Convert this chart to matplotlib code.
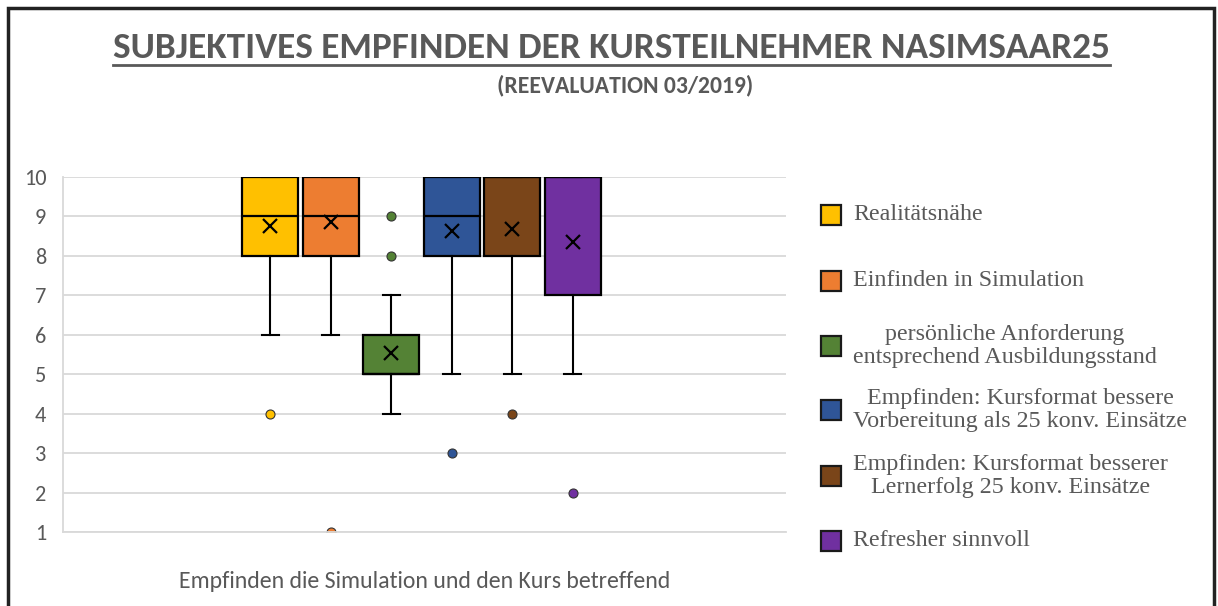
import matplotlib.pyplot as plt
from matplotlib.patches import Rectangle
from matplotlib import font_manager

# Boxplot statistics (scale 1-10)
labels = ["Realitätsnähe",
          "Einfinden in Simulation",
          "persönliche Anforderung\nentsprechend Ausbildungsstand",
          "Empfinden: Kursformat bessere\nVorbereitung als 25 konv. Einsätze",
          "Empfinden: Kursformat besserer\nLernerfolg 25 konv. Einsätze",
          "Refresher sinnvoll"]
q1 = [8, 8, 5, 8, 8, 7]
med = [9, 9, 5, 9, 10, 10]
q3 = [10, 10, 6, 10, 10, 10]
whislo = [6, 6, 4, 5, 5, 5]
whishi = [10, 10, 7, 10, 10, 10]
means = [8.76, 8.87, 5.54, 8.63, 8.67, 8.36]
outliers = [[4], [1], [8, 9], [3], [4], [2]]
colors = ["#FFC000", "#ED7D31", "#548235", "#2F5597", "#7A4519", "#7030A0"]

title = "SUBJEKTIVES EMPFINDEN DER KURSTEILNEHMER NASIMSAAR25"
subtitle = "(REEVALUATION 03/2019)"
xlabel = "Empfinden die Simulation und den Kurs betreffend"

grey = "#595959"
names = {f.name for f in font_manager.fontManager.ttflist}


def pick(*cands):
    for c in cands:
        if c in names:
            return [c, "DejaVu Sans"]
    return ["DejaVu Sans"]


narrow = pick("Carlito", "Liberation Sans Narrow", "Roboto Condensed",
              "Open Sans Condensed", "Arial Narrow", "Fira Sans Condensed",
              "PT Sans Narrow", "Archivo Narrow", "Roboto")
calib = pick("Carlito", "Lato")

fig = plt.figure(figsize=(12.18, 6.06), dpi=100)
W, H = 1218, 606
ax = fig.add_axes([63 / W, 1 - 532 / H, (786 - 63) / W, (532 - 177) / H])

stats = []
for i in range(len(labels)):
    stats.append(dict(q1=q1[i], med=med[i], q3=q3[i], whislo=whislo[i],
                      whishi=whishi[i], mean=means[i], fliers=outliers[i]))

pos = list(range(1, len(labels) + 1))
bp = ax.bxp(stats, positions=pos, widths=0.925, capwidths=0.28,
            patch_artist=True, showmeans=True,
            boxprops=dict(edgecolor="black", linewidth=1.6),
            medianprops=dict(color="black", linewidth=1.6),
            whiskerprops=dict(color="black", linewidth=1.5),
            capprops=dict(color="black", linewidth=1.5),
            meanprops=dict(marker="x", markeredgecolor="black", markersize=10,
                           markeredgewidth=1.6))
for box, c in zip(bp["boxes"], colors):
    box.set_facecolor(c)
for fl, c in zip(bp["fliers"], colors):
    fl.set(marker="o", markerfacecolor=c, markeredgecolor="#333333",
           markersize=6.5, markeredgewidth=0.8)

ax.set_xlim(1 - 3.42, 6 + 3.52)
ax.set_ylim(1, 10)
ax.set_yticks(range(1, 11))
ax.set_xticks([])
ax.grid(axis="y", color="#D9D9D9", linewidth=1.3)
ax.set_axisbelow(True)
for s in ["top", "right"]:
    ax.spines[s].set_visible(False)
for s in ["left", "bottom"]:
    ax.spines[s].set_color("#D9D9D9")
    ax.spines[s].set_linewidth(1.3)
ax.tick_params(axis="y", length=0, pad=12, labelsize=16, labelcolor=grey)
for t in ax.get_yticklabels():
    t.set_family(calib)

ax.set_xlabel(xlabel, fontsize=16, color=grey, family=calib, labelpad=28)

# titles
t1 = fig.text(611 / W, 1 - 48 / H, title, ha="center", va="center", fontsize=26,
              fontweight="bold", color=grey, family=narrow)
t2 = fig.text(625 / W, 1 - 85 / H, subtitle, ha="center", va="center",
              fontsize=15, fontweight="bold", color=grey, family=narrow)
xl = ax.xaxis.label

# fit text widths to the reference (title ~997 px, subtitle ~257 px, x label ~492 px)
r = fig.canvas.get_renderer()
for txt, target in [(t1, 997), (t2, 257), (xl, 492)]:
    w = txt.get_window_extent(r).width
    txt.set_fontsize(txt.get_fontsize() * target / w)

fig.add_artist(plt.Line2D([113 / W, 1110 / W], [1 - 65 / H, 1 - 65 / H],
                          color=grey, linewidth=2))

# legend drawn by hand, entries evenly spaced
leg_y = [215, 281, 346, 410, 476, 541]
for lab, c, y in zip(labels, colors, leg_y):
    fig.add_artist(Rectangle((821 / W, 1 - (y + 10) / H), 20 / W, 20 / H,
                             transform=fig.transFigure, facecolor=c,
                             edgecolor="#1a1a1a", linewidth=1.6))
    fig.text(853 / W, 1 - y / H, lab, ha="left", va="center", multialignment="center",
             fontsize=17.3, color=grey, family=["Liberation Serif", "DejaVu Serif"],
             linespacing=1.08)

# outer frame
fig.add_artist(Rectangle((8 / W, -0.02), (1214 - 8) / W, 1 - 8 / H + 0.02,
                         transform=fig.transFigure, fill=False,
                         edgecolor="#222222", linewidth=2.5))

fig.savefig("out.png", dpi=100)
